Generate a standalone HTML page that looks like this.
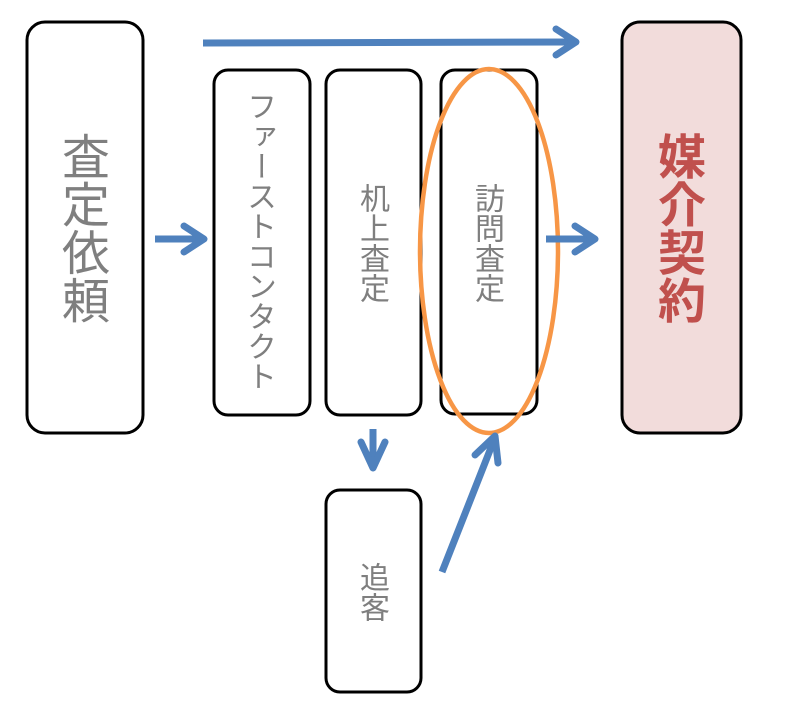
<!DOCTYPE html>
<html><head><meta charset="utf-8"><style>
html,body{margin:0;padding:0;background:#fff;width:788px;height:707px;overflow:hidden}
.t{position:absolute;writing-mode:vertical-rl;text-orientation:upright;font-family:"Liberation Sans","Noto Sans CJK JP",sans-serif;color:#7f7f7f;line-height:1;white-space:nowrap;transform:translate(-50%,-50%)}
</style></head><body>
<svg width="788" height="707" style="position:absolute;left:0;top:0">
<g fill="#fff" stroke="#000" stroke-width="3">
<rect x="27" y="22" width="116" height="411" rx="18"/>
<rect x="214" y="70" width="96" height="345" rx="14"/>
<rect x="326" y="70" width="95" height="345" rx="14"/>
<rect x="441" y="70" width="96" height="344" rx="14"/>
<rect x="622" y="22" width="119" height="411" rx="18" fill="#f2dcdb"/>
<rect x="326" y="490" width="95" height="202" rx="14"/>
</g>
<ellipse cx="489" cy="251" rx="69" ry="182" fill="none" stroke="#f79646" stroke-width="4.5"/>
<g stroke="#4f81bd" stroke-width="7" fill="none" stroke-linecap="round" stroke-linejoin="round">
<line x1="203" y1="43" x2="574" y2="42" stroke-linecap="butt"/>
<polyline points="556,29 576,42 556,55"/>
<line x1="155" y1="239" x2="202" y2="239" stroke-linecap="butt"/>
<polyline points="184,226 204,239 184,252"/>
<line x1="546" y1="239" x2="593" y2="239" stroke-linecap="butt"/>
<polyline points="575,226 595,239 575,252"/>
<line x1="373" y1="429" x2="373" y2="466" stroke-linecap="butt"/>
<polyline points="361,442 373,468 385,442"/>
<line x1="442" y1="572" x2="494" y2="440" stroke-linecap="butt"/>
<polyline points="475,455 495,436 498,463"/>
</g>
</svg>
<div class="t" style="left:80px;top:228px;font-size:48px">査定依頼</div>
<div class="t" style="left:258px;top:241px;font-size:30px">ファーストコンタクト</div>
<div class="t" style="left:371px;top:243px;font-size:30px">机上査定</div>
<div class="t" style="left:486px;top:243px;font-size:30px">訪問査定</div>
<div class="t" style="left:676px;top:228px;font-size:48px;color:#c0504d;font-weight:bold">媒介契約</div>
<div class="t" style="left:371px;top:592px;font-size:30px">追客</div>
</body></html>
